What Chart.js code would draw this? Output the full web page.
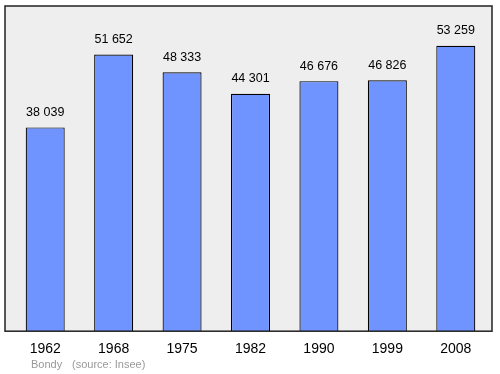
<!DOCTYPE html>
<html>
<head>
<meta charset="utf-8">
<script src="https://cdn.jsdelivr.net/npm/chart.js@4/dist/chart.umd.min.js"></script>
<style>
  html, body { margin: 0; padding: 0; background: #fff; }
  #wrap { width: 500px; height: 374px; position: relative; }
</style>
</head>
<body>
<div id="wrap"><canvas id="c"></canvas></div>
<script>
/* ===== data ===== */
const years = ["1962", "1968", "1975", "1982", "1990", "1999", "2008"];
const population = [38039, 51652, 48333, 44301, 46676, 46826, 53259];
const placeName = "Bondy";
const sourceNote = "(source: Insee)";

/* French style thousands: 38 039 */
function fmt(n) {
  return String(n).replace(/\B(?=(\d{3})+(?!\d))/g, " ");
}

/* grey box behind the bars + labels */
const boxPlugin = {
  id: "box",
  beforeDatasetsDraw(chart) {
    const { ctx, chartArea: a } = chart;
    ctx.save();
    ctx.fillStyle = "#eeeeee";
    ctx.fillRect(a.left - 6, a.top, a.right - a.left + 8, a.bottom - a.top);
    ctx.restore();
  },
  afterDatasetsDraw(chart) {
    const { ctx, chartArea: a } = chart;
    ctx.save();
    ctx.strokeStyle = "#222";
    ctx.lineWidth = 1.5;
    ctx.strokeRect(a.left - 6, a.top, a.right - a.left + 8, a.bottom - a.top);

    // value labels
    ctx.fillStyle = "#000";
    ctx.font = "12.5px 'Liberation Sans', Arial, sans-serif";
    ctx.textAlign = "center";
    ctx.textBaseline = "middle";
    chart.getDatasetMeta(0).data.forEach((bar, i) => {
      ctx.fillText(fmt(population[i]), bar.x, bar.y - 15);
    });

    // footnote
    ctx.fillStyle = "#999";
    ctx.font = "11px 'Liberation Sans', Arial, sans-serif";
    ctx.textAlign = "left";
    ctx.fillText(placeName, 31, 365);
    ctx.fillText(sourceNote, 72, 365);
    ctx.restore();
  }
};

new Chart(document.getElementById("c"), {
  type: "bar",
  data: {
    labels: years,
    datasets: [{
      data: population,
      backgroundColor: "#7094ff",
      borderColor: "#000",
      borderWidth: 1.2,
      barPercentage: 0.57,
      categoryPercentage: 1
    }]
  },
  options: {
    responsive: true,
    maintainAspectRatio: false,
    animation: false,
    layout: { padding: { left: 11, right: 10, top: 6, bottom: 6 } },
    plugins: {
      legend: { display: false },
      tooltip: { enabled: false }
    },
    scales: {
      x: {
        grid: { display: false, drawTicks: false },
        border: { display: false },
        ticks: {
          color: "#000",
          padding: 10,
          font: { size: 14, family: "'Liberation Sans', Arial, sans-serif" }
        }
      },
      y: {
        display: false,
        min: 0,
        max: 60700
      }
    }
  },
  plugins: [boxPlugin]
});
</script>
</body>
</html>
